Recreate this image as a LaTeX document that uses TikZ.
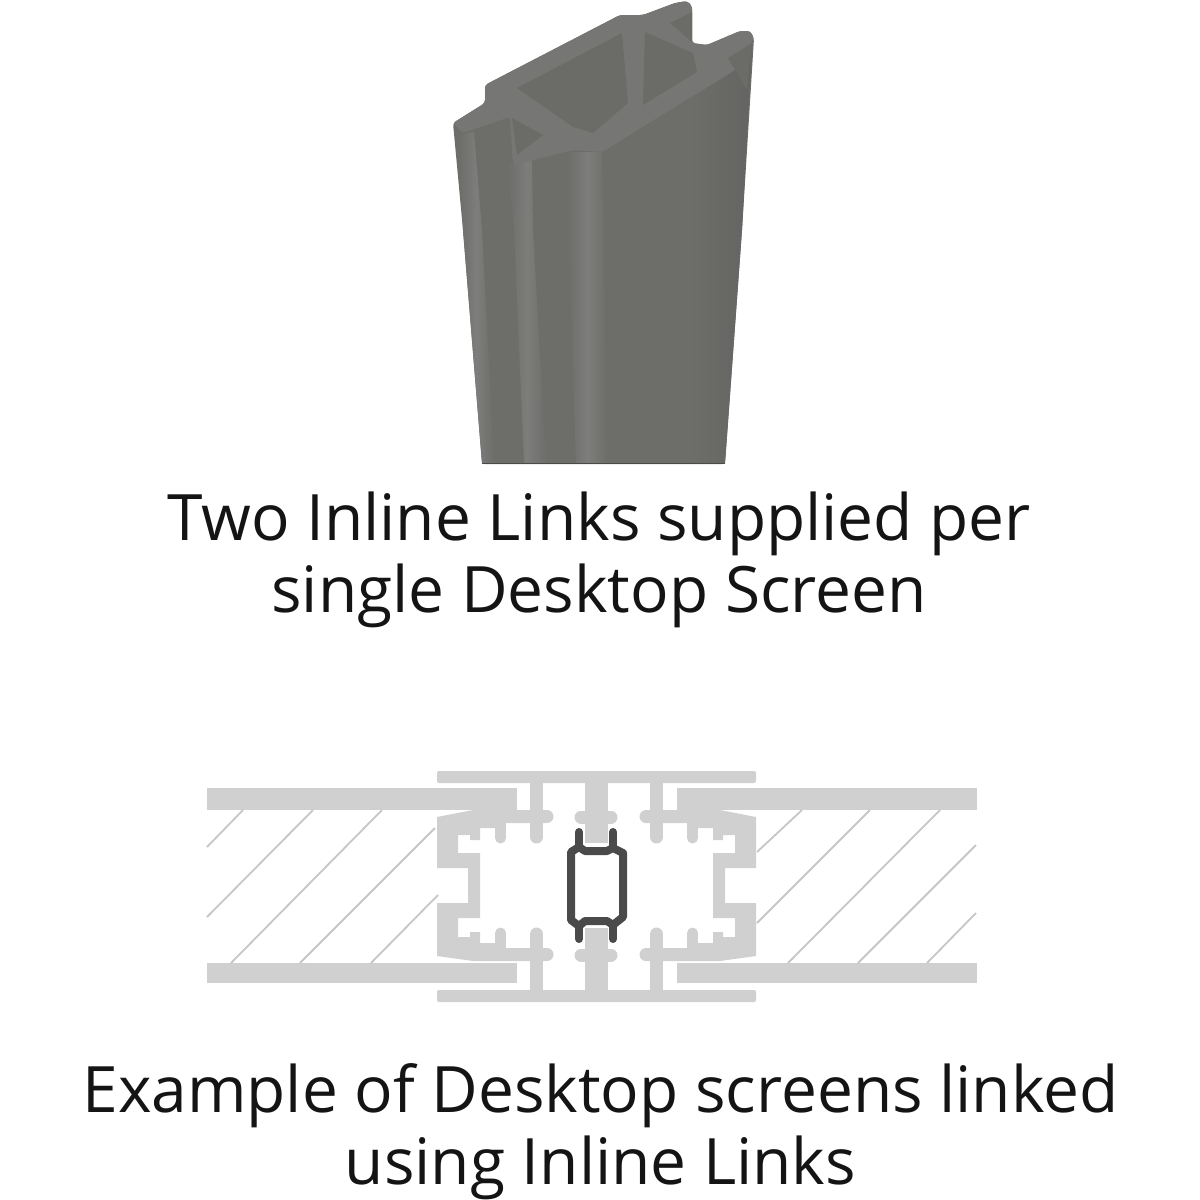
\documentclass[tikz,border=0pt]{standalone}
\usepackage{fontspec}
\setmainfont{Open Sans}
\usepackage{tikz}
\usetikzlibrary{positioning}
\definecolor{linkbody}{HTML}{6D6D6A}
\definecolor{linkcap}{HTML}{767674}
\definecolor{linkhole}{HTML}{6B6B67}
\definecolor{linkband}{HTML}{7D7D7B}
\definecolor{linkedge}{HTML}{646462}
\definecolor{linkdark}{HTML}{4A4A4A}
\definecolor{framegray}{HTML}{CFD0CF}
\tikzset{
  caption/.style={align=center, text=black!92, font=\fontsize{64}{72}\selectfont, inner sep=0pt},
  frameblock/.style={fill=framegray, draw=none},
  framestem/.style={draw=framegray, line cap=round},
  hatchline/.style={draw=framegray!95!black, line width=1.8pt},
  linkline/.style={draw=linkdark, line width=8pt, line join=round, line cap=round},
  softband/.style={left color=linkbody, right color=linkbody, middle color=linkband}
}
\begin{document}
\begin{tikzpicture}[x=1pt, y=-1pt]
    \useasboundingbox (0,0) rectangle (1200,1200);

    % Draw the extruded link
    \fill[linkbody, rounded corners=3pt] (453,123) -- (485,103) -- (485,85) -- (620,15) -- (643,15) -- (675,3) -- (687,1) -- (692,6) -- (692,43) -- (707,45) -- (740,31) -- (750,31) -- (754,38) -- (742,230) -- (725,464) -- (482,464) -- (463,230) -- cycle;
    \shade[left color=linkbody, right color=linkedge] (690,100) -- (735,70) -- (752,45) -- (742,230) -- (725,463) -- (690,463) -- cycle;
    \shade[softband] (508,165) -- (532,160) -- (533,230) -- (546,463) -- (524,463) -- (514,230) -- cycle;
    \shade[softband] (568,152) -- (602,152) -- (604,230) -- (607,463) -- (576,463) -- (568,230) -- cycle;
    \shade[softband] (459,135) -- (474,132) -- (482,230) -- (494,463) -- (482,463) -- (463,230) -- cycle;
    \draw[linkdark, line width=1pt] (482,463) -- (725,463);

    % Draw the top face
    \fill[linkcap, rounded corners=3pt] (453,123) -- (485,103) -- (485,85) -- (620,15) -- (643,15) -- (675,3) -- (687,1) -- (692,6) -- (692,43) -- (707,45) -- (740,31) -- (750,31) -- (754,38) -- (735,70) -- (602,152) -- (573,150) -- (513,165) -- (510,117) -- (463,133) -- cycle;
    \fill[linkhole] (517,88) -- (622,33) -- (628,103) -- (593,133) -- (573,127) -- cycle;
    \fill[linkhole] (645,32) -- (693,53) -- (697,72) -- (643,105) -- cycle;
    \fill[linkhole] (512,118) -- (543,135) -- (517,155) -- cycle;
    \fill[linkhole] (670,23) -- (692,12) -- (692,42) -- cycle;
    \fill[linkhole] (728,58) -- (752,43) -- (747,90) -- cycle;

    % Draw the glass panels
    \fill[frameblock] (207,788) rectangle (517,810);
    \fill[frameblock] (207,963) rectangle (517,983);
    \fill[frameblock] (677,788) rectangle (977,810);
    \fill[frameblock] (677,963) rectangle (977,983);

    % Draw the hatching
    \draw[hatchline] (243,810) -- (207,847);
    \draw[hatchline] (313,810) -- (207,917);
    \draw[hatchline] (382,810) -- (231,963);
    \draw[hatchline] (435,828) -- (300,963);
    \draw[hatchline] (438,895) -- (371,963);
    \draw[hatchline] (802,810) -- (757,852);
    \draw[hatchline] (870,810) -- (757,923);
    \draw[hatchline] (940,810) -- (788,963);
    \draw[hatchline] (976,845) -- (858,963);
    \draw[hatchline] (976,913) -- (927,963);

    % Draw the covers and the centre spine
    \fill[frameblock, rounded corners=2pt] (437,771) rectangle (756,783);
    \fill[frameblock, rounded corners=2pt] (437,990) rectangle (756,1002);
    \fill[frameblock] (585,783) rectangle (608,843);
    \fill[frameblock] (585,928) rectangle (608,990);
    \draw[framestem, line width=13pt] (581,817) -- (611,817);
    \draw[framestem, line width=13pt] (581,955) -- (611,955);

    % Draw both frames, the second one mirrored
    \foreach \s in {0,1} {
        \begin{scope}[shift={(1193*\s,0)}, xscale=1-2*\s]
            \fill[frameblock] (437,817) -- (473,810) -- (547,810) -- (547,823) -- (506,823) -- (495,823) -- (495,828) -- (480,828) -- (480,840) -- (470,840) -- (470,835) -- (458,835) -- (458,853) -- (480,853) -- (480,918) -- (458,918) -- (458,937) -- (470,937) -- (470,932) -- (480,932) -- (480,943) -- (495,943) -- (495,948) -- (547,948) -- (547,961) -- (473,961) -- (437,956) -- (437,903) -- (468,903) -- (468,868) -- (437,868) -- cycle;
            \fill[framegray] (547,816.5) circle (6.5pt);
            \fill[framegray] (547,954.5) circle (6.5pt);
            \draw[framestem, line width=13pt] (536.5,783) -- (536.5,837);
            \draw[framestem, line width=13pt] (536.5,934) -- (536.5,990);
            \draw[framestem, line width=11pt] (500.5,823) -- (500.5,838);
            \draw[framestem, line width=11pt] (500.5,933) -- (500.5,948);
        \end{scope}
    }

    % Draw the dark link
    \draw[linkline] (571,852) -- (571,920) -- (579,926) -- (585,921) -- (607,921) -- (613,925) -- (623,917) -- (623,853) -- (613,848) -- (607,851) -- (585,851) -- (579,847) -- cycle;
    \draw[linkline] (579,832) -- (579,847);
    \draw[linkline] (613,832) -- (613,848);
    \draw[linkline] (579,926) -- (579,939);
    \draw[linkline] (613,925) -- (613,939);

    % Define nodes
    \node (top) [caption] at (599,560) {Two Inline Links supplied per\\single Desktop Screen};
    \node (bottom) [caption] at (600.5,1132) {Example of Desktop screens linked\\using Inline Links};

\end{tikzpicture}
\end{document}
